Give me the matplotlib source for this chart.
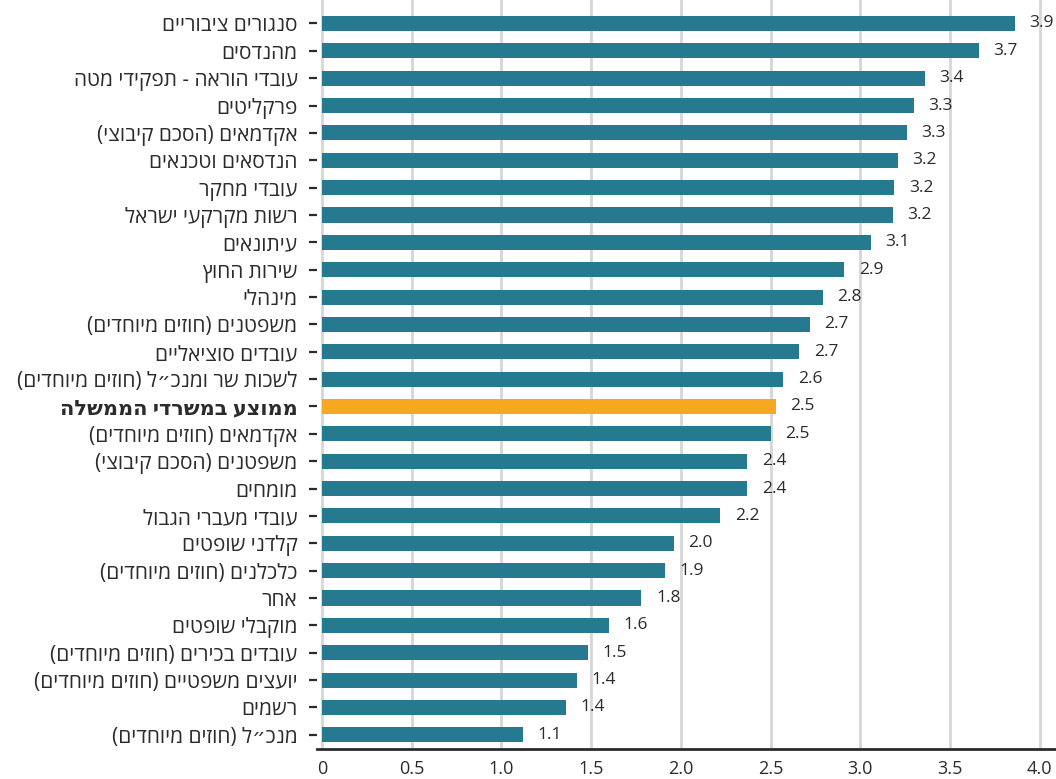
import matplotlib
matplotlib.use("Agg")
import matplotlib.pyplot as plt

# Categories (logical Hebrew order), top to bottom
categories = [
    "סנגורים ציבוריים",
    "מהנדסים",
    "עובדי הוראה - תפקידי מטה",
    "פרקליטים",
    "אקדמאים (הסכם קיבוצי)",
    "הנדסאים וטכנאים",
    "עובדי מחקר",
    "רשות מקרקעי ישראל",
    "עיתונאים",
    "שירות החוץ",
    "מינהלי",
    "משפטנים (חוזים מיוחדים)",
    "עובדים סוציאליים",
    "לשכות שר ומנכ״ל (חוזים מיוחדים)",
    "ממוצע במשרדי הממשלה",
    "אקדמאים (חוזים מיוחדים)",
    "משפטנים (הסכם קיבוצי)",
    "מומחים",
    "עובדי מעברי הגבול",
    "קלדני שופטים",
    "כלכלנים (חוזים מיוחדים)",
    "אחר",
    "מוקבלי שופטים",
    "עובדים בכירים (חוזים מיוחדים)",
    "יועצים משפטיים (חוזים מיוחדים)",
    "רשמים",
    "מנכ״ל (חוזים מיוחדים)",
]

values = [3.86, 3.66, 3.36, 3.30, 3.26, 3.21, 3.19, 3.18, 3.06, 2.91,
          2.79, 2.72, 2.66, 2.57, 2.53, 2.50, 2.37, 2.37, 2.22, 1.96,
          1.91, 1.78, 1.60, 1.48, 1.42, 1.36, 1.12]

highlight = "ממוצע במשרדי הממשלה"
x_ticks = [0, 0.5, 1.0, 1.5, 2.0, 2.5, 3.0, 3.5, 4.0]
x_tick_labels = ["0", "0.5", "1.0", "1.5", "2.0", "2.5", "3.0", "3.5", "4.0"]

TEAL = "#267A8F"
ORANGE = "#F7A823"
TEXT = "#2b2b2b"
GRID = "#d6d6d6"

FONT = ["Open Sans", "DejaVu Sans"]
plt.rcParams["font.family"] = FONT


def visual_rtl(s):
    """Reverse a logical RTL string into left-to-right visual order."""
    mirror = {"(": ")", ")": "("}
    return "".join(mirror.get(c, c) for c in reversed(s))


fig = plt.figure(figsize=(10.56, 7.79), dpi=100)
ax = fig.add_axes([317 / 1056, 30 / 779, (1056 - 317) / 1056, 749 / 779])

ypos = list(range(len(categories)))
colors = [ORANGE if c == highlight else TEAL for c in categories]
ax.barh(ypos, values, height=0.55, color=colors, zorder=3)

for y, v in zip(ypos, values):
    ax.annotate(f"{v:.1f}", xy=(v, y), xytext=(10.5, 0), textcoords="offset points",
                ha="left", va="center", fontsize=12.5, color=TEXT, zorder=4)

ax.set_xlim(-0.028, 4.091)
ax.set_ylim(26.52, -0.859)

ax.set_yticks(ypos)
ax.set_yticklabels([visual_rtl(c) for c in categories], fontsize=15, color=TEXT)
for lbl, c in zip(ax.get_yticklabels(), categories):
    if c == highlight:
        lbl.set_fontweight("bold")

ax.set_xticks(x_ticks)
ax.set_xticklabels(x_tick_labels, fontsize=13, color=TEXT)

ax.tick_params(axis="y", length=6, width=1.6, color=TEXT, pad=8)
ax.tick_params(axis="x", length=0, pad=8)

ax.grid(axis="x", color=GRID, linewidth=2, zorder=0)
ax.grid(axis="y", visible=False)

for side in ["top", "right", "left"]:
    ax.spines[side].set_visible(False)
ax.spines["bottom"].set_color(TEXT)
ax.spines["bottom"].set_linewidth(2)

fig.savefig("out.png", dpi=100)
